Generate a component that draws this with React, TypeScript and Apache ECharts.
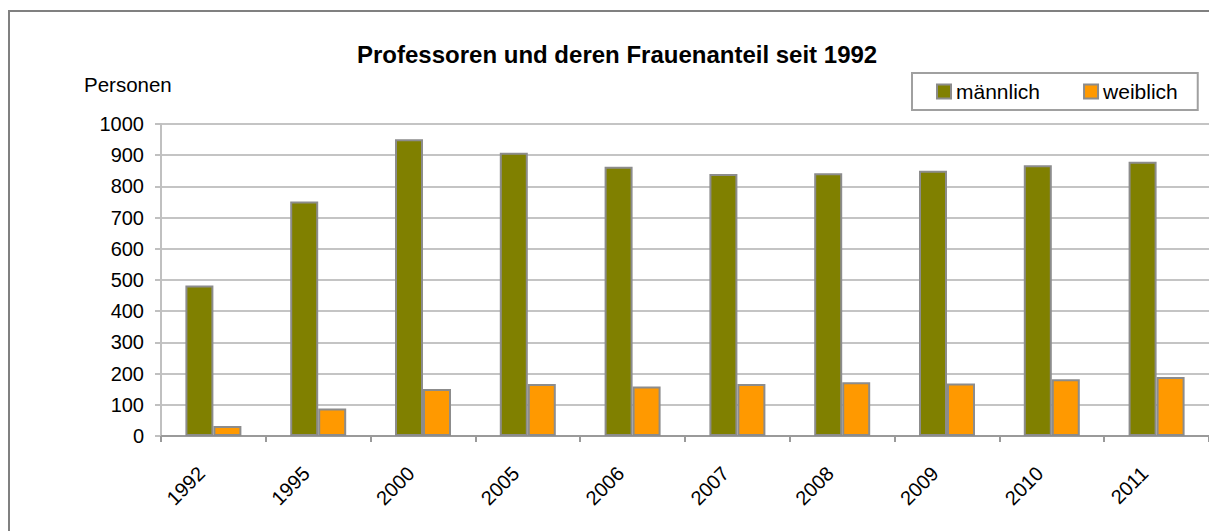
import React, { useEffect, useRef } from "react";
import * as echarts from "echarts";

const categories = ["1992", "1995", "2000", "2005", "2006", "2007", "2008", "2009", "2010", "2011"];
const maleValues = [482, 752, 951, 908, 863, 840, 842, 850, 868, 879];
const femaleValues = [32, 88, 151, 167, 159, 167, 172, 168, 182, 189];
const seriesNames = ["männlich", "weiblich"];
const titleText = "Professoren und deren Frauenanteil seit 1992";
const yAxisTitle = "Personen";

const FONT = "'Liberation Sans', Arial, sans-serif";

export default function App() {
  const ref = useRef<HTMLDivElement>(null);
  useEffect(() => {
    if (!ref.current) return;
    const chart = echarts.init(ref.current, undefined, { renderer: "svg" });
    const barBorder = { borderColor: "#8c8c8c", borderWidth: 2 };
    chart.setOption({
      animation: false,
      backgroundColor: "#ffffff",
      textStyle: { fontFamily: FONT },
      graphic: [
        {
          type: "rect",
          shape: { x: 9, y: 11, width: 1400, height: 700 },
          style: { fill: "none", stroke: "#808080", lineWidth: 2 },
          z: -1,
        },
        {
          type: "text",
          left: 84,
          top: 74,
          style: { text: yAxisTitle, font: `20.5px ${FONT}`, fill: "#000" },
        },
      ],
      title: {
        text: titleText,
        left: 352,
        top: 37,
        textStyle: { fontFamily: FONT, fontWeight: "bold", fontSize: 24, color: "#000" },
      },
      legend: {
        data: seriesNames,
        left: 912,
        top: 73,
        orient: "horizontal",
        padding: [8, 20, 8, 24],
        itemGap: 43,
        itemWidth: 14,
        itemHeight: 14,
        icon: "rect",
        borderColor: "#a0a0a0",
        borderWidth: 2,
        textStyle: { fontFamily: FONT, fontSize: 21, color: "#000", padding: [0, 0, 0, 0] },
      },
      grid: { left: 161, top: 124, bottom: 95, width: 1049, containLabel: false },
      xAxis: {
        type: "category",
        data: categories,
        axisLine: { lineStyle: { color: "#9a9a9a", width: 2 } },
        axisTick: { show: true, length: 6, lineStyle: { color: "#9a9a9a", width: 2 } },
        axisLabel: {
          rotate: 45,
          margin: 22,
          padding: [0, 17, 0, 0],
          fontFamily: FONT,
          fontSize: 20,
          color: "#000",
        },
      },
      yAxis: {
        type: "value",
        min: 0,
        max: 1000,
        interval: 100,
        axisLine: { show: true, lineStyle: { color: "#c0c0c0", width: 2 } },
        axisTick: { show: true, length: 6, lineStyle: { color: "#c0c0c0", width: 2 } },
        splitLine: { lineStyle: { color: "#c4c4c4", width: 2 } },
        axisLabel: {
          margin: 17,
          fontFamily: FONT,
          fontSize: 20,
          color: "#000",
          formatter: (v: number) => String(v),
        },
      },
      series: [
        {
          name: seriesNames[0],
          type: "bar",
          data: maleValues,
          barWidth: 28,
          barGap: "0%",
          itemStyle: { color: "#808000", ...barBorder },
        },
        {
          name: seriesNames[1],
          type: "bar",
          data: femaleValues,
          barWidth: 28,
          barGap: "0%",
          itemStyle: { color: "#ff9900", ...barBorder },
        },
      ],
    });
    return () => chart.dispose();
  }, []);
  return (
    <div
      ref={ref}
      style={{ position: "fixed", left: 0, top: 0, width: 1209, height: 531 }}
    />
  );
}
